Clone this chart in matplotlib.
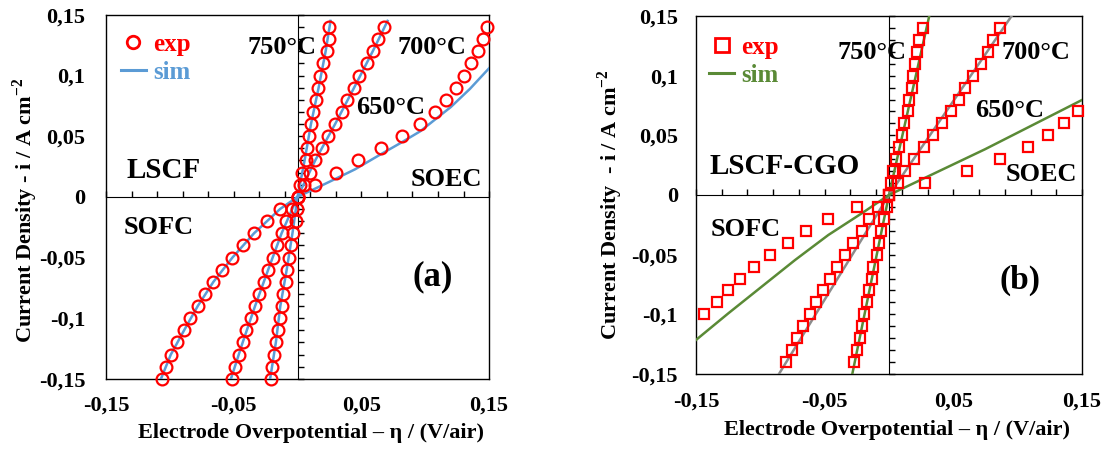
import numpy as np
import matplotlib
matplotlib.use("Agg")
import matplotlib.pyplot as plt
from matplotlib.lines import Line2D

plt.rcParams["font.family"] = "Liberation Serif"
plt.rcParams["font.weight"] = "bold"
plt.rcParams["mathtext.fontset"] = "custom"
plt.rcParams["mathtext.rm"] = "Liberation Serif:bold"
plt.rcParams["mathtext.bf"] = "Liberation Serif:bold"

RED = "#FF0000"
BLUE = "#5B9BD5"
GREEN = "#5A8A36"
GRAY = "#8C8C8C"

X_TICKS = [-0.15, -0.05, 0.05, 0.15]
X_TICK_LABELS = ["-0,15", "-0,05", "0,05", "0,15"]
Y_TICKS = [0.15, 0.1, 0.05, 0, -0.05, -0.1, -0.15]
Y_TICK_LABELS = ["0,15", "0,1", "0,05", "0", "-0,05", "-0,1", "-0,15"]

# ---- (a) LSCF, experimental points ----
I_A = [-0.15, -0.14, -0.13, -0.12, -0.11, -0.10, -0.09, -0.08, -0.07, -0.06,
       -0.05, -0.04, -0.03, -0.02, -0.01, 0.0, 0.01, 0.02, 0.03, 0.04,
       0.05, 0.06, 0.07, 0.08, 0.09, 0.10, 0.11, 0.12, 0.13, 0.14]
ETA_A_650 = [-0.1064, -0.103, -0.0993, -0.0941, -0.0889, -0.0842, -0.0782, -0.0727, -0.0659, -0.0594,
             -0.051, -0.0429, -0.0341, -0.0241, -0.0137, 0.0, 0.0137, 0.030, 0.047, 0.0654,
             0.0816, 0.0959, 0.1077, 0.116, 0.124, 0.1304, 0.1356, 0.141, 0.145, 0.148]
ETA_A_700 = [-0.0515, -0.0489, -0.0456, -0.0429, -0.0400, -0.0364, -0.0333, -0.0299, -0.0262, -0.0228,
             -0.0194, -0.0158, -0.0124, -0.009, -0.0046, 0.0, 0.0051, 0.0098, 0.0137, 0.019,
             0.0241, 0.0294, 0.0346, 0.039, 0.0443, 0.0484, 0.0542, 0.0589, 0.0633, 0.068]
ETA_A_750 = [-0.021, -0.0202, -0.0184, -0.0168, -0.015, -0.0137, -0.0124, -0.0111, -0.009, -0.008,
             -0.0064, -0.0051, -0.0038, -0.0012, -0.0007, 0.0, 0.002, 0.0038, 0.0064, 0.0077,
             0.0093, 0.0103, 0.0124, 0.0145, 0.0163, 0.0176, 0.0202, 0.0228, 0.0244, 0.025]

# ---- (a) simulated curves ----
SIM_I_A = [-0.15, -0.12, -0.09, -0.06, -0.03, 0.0, 0.03, 0.06, 0.09, 0.12, 0.145]
SIM_ETA_A_750 = [-0.0215, -0.017, -0.0135, -0.0085, -0.004, 0.0, 0.0055, 0.0105, 0.0165, 0.022, 0.0258]
SIM_ETA_A_700 = [-0.0522, -0.043, -0.0333, -0.023, -0.0125, 0.0, 0.0138, 0.0294, 0.0443, 0.0589, 0.0705]
SIM_I_A_650 = [-0.15, -0.13, -0.11, -0.09, -0.07, -0.05, -0.03, -0.01, 0.0,
               0.0074, 0.015, 0.0227, 0.035, 0.044, 0.054, 0.074, 0.089, 0.106]
SIM_ETA_A_650 = [-0.107, -0.0993, -0.0889, -0.0782, -0.0659, -0.051, -0.0341, -0.0137, 0.0,
                 0.015, 0.030, 0.045, 0.065, 0.080, 0.096, 0.120, 0.135, 0.150]

# ---- (b) LSCF-CGO, experimental points ----
I_B = [-0.14, -0.13, -0.12, -0.11, -0.10, -0.09, -0.08, -0.07, -0.06, -0.05,
       -0.04, -0.03, -0.02, -0.01, 0.0, 0.01, 0.02, 0.03, 0.04, 0.05,
       0.06, 0.07, 0.08, 0.09, 0.10, 0.11, 0.12, 0.13, 0.14]
ETA_B_750 = [-0.0272, -0.0251, -0.0225, -0.0212, -0.0194, -0.0169, -0.0153, -0.0135, -0.0122, -0.0096,
             -0.0075, -0.0062, -0.0039, -0.0018, 0.0, 0.0013, 0.0034, 0.0054, 0.008, 0.0098,
             0.0117, 0.0145, 0.0158, 0.0176, 0.0189, 0.0202, 0.022, 0.0236, 0.0262]
ETA_B_700 = [-0.08, -0.0756, -0.0712, -0.0666, -0.0614, -0.0567, -0.051, -0.0458, -0.0407, -0.0342,
             -0.0277, -0.0212, -0.0153, -0.0083, 0.0, 0.0073, 0.0124, 0.0197, 0.0275, 0.0345,
             0.041, 0.048, 0.0547, 0.059, 0.0655, 0.0715, 0.0772, 0.081, 0.0862]
I_B_650 = [-0.10, -0.09, -0.08, -0.07, -0.06, -0.05, -0.04, -0.03, -0.02, -0.01,
           0.0, 0.01, 0.02, 0.03, 0.04, 0.05, 0.06, 0.07]
ETA_B_650 = [-0.1435, -0.1339, -0.1249, -0.1158, -0.1049, -0.0925, -0.0782, -0.0645, -0.0471, -0.0251,
             0.0, 0.028, 0.0609, 0.0862, 0.1083, 0.1238, 0.136, 0.1471]

# ---- (b) simulated curves ----
SIM_I_B_LIN = [-0.15, 0.0, 0.15]
SIM_ETA_B_750 = [-0.0285, 0.0, 0.0313]
SIM_ETA_B_700 = [-0.0855, 0.0, 0.0953]
SIM_I_B_650 = [-0.1215, -0.0992, -0.0768, -0.0545, -0.0335, -0.0154, 0.0, 0.0383, 0.0796]
SIM_ETA_B_650 = [-0.15, -0.1249, -0.0989, -0.073, -0.0471, -0.0212, 0.0, 0.0746, 0.15]


def make_axes(fig, rect, ylabel, ylabel_xy, xlabel_xy, ypad, xpad):
    ax = fig.add_axes(rect)
    ax.set_xlim(-0.15, 0.15)
    ax.set_ylim(-0.15, 0.15)
    ax.set_xticks(X_TICKS, X_TICK_LABELS)
    ax.set_yticks(Y_TICKS, Y_TICK_LABELS)
    ax.tick_params(length=0, labelsize=16)
    ax.tick_params(axis="y", pad=ypad)
    ax.tick_params(axis="x", pad=xpad)
    for s in ax.spines.values():
        s.set_linewidth(1.0)
    ax.set_xlabel("Electrode Overpotential – η / (V/air)", fontsize=16, fontweight="bold")
    ax.xaxis.set_label_coords(*xlabel_xy)
    ax.set_ylabel(ylabel, fontsize=16, fontweight="bold", va="center")
    ax.yaxis.set_label_coords(*ylabel_xy)

    # centred axes with the small tick marks
    axc = fig.add_axes(rect)
    axc.set_xlim(-0.15, 0.15)
    axc.set_ylim(-0.15, 0.15)
    axc.patch.set_visible(False)
    axc.spines[["top", "right"]].set_visible(False)
    axc.spines["left"].set_position(("data", 0))
    axc.spines["bottom"].set_position(("data", 0))
    axc.set_xticks(np.arange(-0.15, 0.151, 0.02))
    axc.set_yticks(np.arange(-0.15, 0.151, 0.01))
    axc.tick_params(direction="in", length=4, width=1, labelbottom=False, labelleft=False)
    return ax, axc


def add_legend(ax, marker, ms, line_color, anchor):
    handles = [
        Line2D([], [], ls="none", marker=marker, mfc="none", mec=RED, ms=ms, mew=2),
        Line2D([], [], color=line_color, lw=2.2),
    ]
    leg = ax.legend(handles, ["exp", "sim"], loc="upper left", bbox_to_anchor=anchor,
                    frameon=False, prop={"family": "Liberation Serif", "weight": "bold", "size": 18},
                    handlelength=1.0, handletextpad=0.3, labelspacing=0.2,
                    borderpad=0, borderaxespad=0)
    for t, c in zip(leg.get_texts(), [RED, line_color]):
        t.set_color(c)


fig = plt.figure(figsize=(11.07, 4.5), dpi=100)

# ---------------- panel (a) ----------------
ax_a, axc_a = make_axes(fig, [0.0958, 0.158, 0.346, 0.809],
                        "Current Density - i / A cm$^{\\mathbf{-2}}$",
                        (-0.212, 0.463), (0.535, -0.121), 15, 12)
mk_a = dict(ls="none", marker="o", mfc="none", mec=RED, ms=8.5, mew=1.6, clip_on=False, zorder=4)
axc_a.plot(SIM_ETA_A_750, SIM_I_A, color=BLUE, lw=1.8, zorder=3)
axc_a.plot(SIM_ETA_A_700, SIM_I_A, color=BLUE, lw=1.8, zorder=3)
axc_a.plot(SIM_ETA_A_650, SIM_I_A_650, color=BLUE, lw=1.8, zorder=3)
axc_a.plot(ETA_A_650, I_A, **mk_a)
axc_a.plot(ETA_A_700, I_A, **mk_a)
axc_a.plot(ETA_A_750, I_A, **mk_a)
add_legend(axc_a, "o", 9, BLUE, (0.039, 0.95))

txt = dict(fontweight="bold", va="center")
axc_a.text(-0.012, 0.123, "750°C", fontsize=19, ha="center", **txt)
axc_a.text(0.105, 0.123, "700°C", fontsize=19, ha="center", **txt)
axc_a.text(0.073, 0.074, "650°C", fontsize=19, ha="center", **txt)
axc_a.text(-0.134, 0.022, "LSCF", fontsize=21, ha="left", **txt)
axc_a.text(0.1445, 0.014, "SOEC", fontsize=19, ha="right", **txt)
axc_a.text(-0.136, -0.025, "SOFC", fontsize=19, ha="left", **txt)
axc_a.text(0.106, -0.066, "(a)", fontsize=25, ha="center", **txt)

# ---------------- panel (b) ----------------
ax_b, axc_b = make_axes(fig, [0.6287, 0.1689, 0.3487, 0.7956],
                        "Current Density  - i / A cm$^{\\mathbf{-2}}$",
                        (-0.222, 0.472), (0.521, -0.128), 13, 13)
mk_b = dict(ls="none", marker="s", mfc="none", mec=RED, ms=7, mew=1.6, clip_on=False, zorder=4)
axc_b.plot(SIM_ETA_B_750, SIM_I_B_LIN, color=GREEN, lw=1.8, zorder=3)
axc_b.plot(SIM_ETA_B_700, SIM_I_B_LIN, color=GRAY, lw=1.8, zorder=3)
axc_b.plot(SIM_ETA_B_650, SIM_I_B_650, color=GREEN, lw=1.8, zorder=3)
axc_b.plot(ETA_B_650, I_B_650, **mk_b)
axc_b.plot(ETA_B_700, I_B, **mk_b)
axc_b.plot(ETA_B_750, I_B, **mk_b)
add_legend(axc_b, "s", 10, GREEN, (0.034, 0.944))

axc_b.text(-0.0134, 0.119, "750°C", fontsize=19, ha="center", **txt)
axc_b.text(0.114, 0.119, "700°C", fontsize=19, ha="center", **txt)
axc_b.text(0.094, 0.071, "650°C", fontsize=19, ha="center", **txt)
axc_b.text(-0.1396, 0.0237, "LSCF-CGO", fontsize=21, ha="left", **txt)
axc_b.text(0.1463, 0.0168, "SOEC", fontsize=19, ha="right", **txt)
axc_b.text(-0.1385, -0.0293, "SOFC", fontsize=19, ha="left", **txt)
axc_b.text(0.1018, -0.0715, "(b)", fontsize=24, ha="center", **txt)

fig.savefig("out.png", dpi=100)
